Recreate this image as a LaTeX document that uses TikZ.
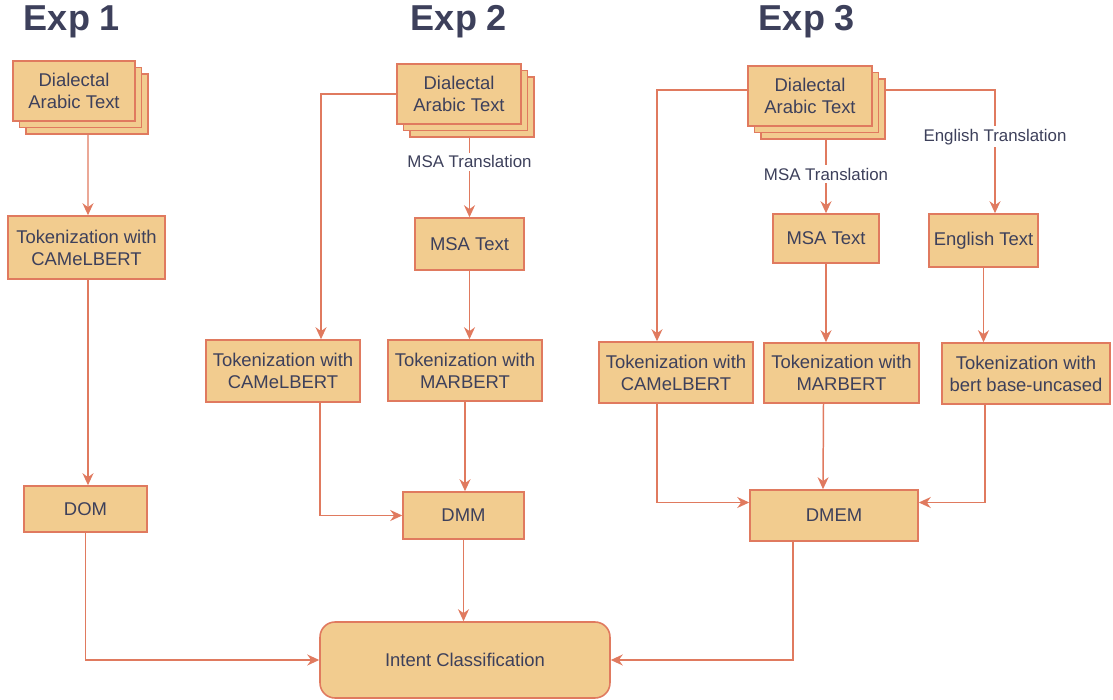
\documentclass[tikz,border=0pt]{standalone}
\usepackage{fontspec}
\setmainfont{Liberation Sans}
\usetikzlibrary{arrows.meta,calc,shadows,backgrounds}
\definecolor{boxfill}{HTML}{F2CC8F}
\definecolor{boxline}{HTML}{E07A5F}
\definecolor{ink}{HTML}{3D405B}

\begin{document}
\begin{tikzpicture}[x=0.02cm,y=-0.02cm,
  every node/.style={text=ink,font=\fontsize{10.5}{12.5}\selectfont},
  box/.style={draw=boxline,fill=boxfill,line width=0.9pt,align=center,inner sep=2pt},
  docs/.style={box,minimum width=2.48cm,minimum height=1.2cm,
    double copy shadow={shadow xshift=0.13cm,shadow yshift=-0.13cm,fill=boxfill,draw=boxline,line width=0.9pt}},
  link/.style={draw=boxline,line width=0.85pt,-{Stealth[length=2.4mm,width=2.2mm]}},
  lab/.style={fill=white,inner sep=1.5pt,font=\fontsize{9.6}{11}\selectfont},
  head/.style={font=\fontsize{20.5}{24}\bfseries}]
\useasboundingbox (0,0) rectangle (1113,700);

\node[head] (h1) at (72,22) {Exp 1};
\node[head] (h2) at (459,22) {Exp 2};
\node[head] (h3) at (807,22) {Exp 3};

\node[docs,minimum width=2.44cm] (doc1) at (74,91) {Dialectal\\Arabic Text};
\node[box,minimum width=3.14cm,minimum height=1.26cm] (tok1) at (86.5,247.5) {Tokenization with\\CAMeLBERT};
\node[box,minimum width=2.46cm,minimum height=0.92cm] (dom) at (85.5,509) {DOM};

\node[docs] (doc2) at (459,94) {Dialectal\\Arabic Text};
\node[box,minimum width=2.18cm,minimum height=1.04cm] (msa2) at (469.5,244) {MSA Text};
\node[box,minimum width=3.08cm,minimum height=1.24cm] (camel2) at (283,371) {Tokenization with\\CAMeLBERT};
\node[box,minimum width=3.08cm,minimum height=1.22cm] (mar2) at (465,370.5) {Tokenization with\\MARBERT};
\node[box,minimum width=2.42cm,minimum height=0.94cm] (dmm) at (463.5,515.5) {DMM};

\node[docs] (doc3) at (810,96) {Dialectal\\Arabic Text};
\node[box,minimum width=2.12cm,minimum height=0.98cm] (msa3) at (826,238.5) {MSA Text};
\node[box,minimum width=2.18cm,minimum height=1.06cm] (eng3) at (983.5,240.5) {English Text};
\node[box,minimum width=3.08cm,minimum height=1.22cm] (camel3) at (676,372.5) {Tokenization with\\CAMeLBERT};
\node[box,minimum width=3.1cm,minimum height=1.2cm] (mar3) at (841.5,373) {Tokenization with\\MARBERT};
\node[box,minimum width=3.36cm,minimum height=1.22cm] (bert3) at (1026,373.5) {Tokenization with\\bert base-uncased};
\node[box,minimum width=3.36cm,minimum height=1.02cm] (dmem) at (834,515.5) {DMEM};

\node[box,rounded corners=0.3cm,minimum width=5.8cm,minimum height=1.52cm] (intent) at (465,660) {Intent Classification};

\begin{scope}[on background layer]
\draw[link] ($(doc1.south)+(14,0)$) -- ($(tok1.north)+(1.5,0)$);
\draw[link] ($(tok1.south)+(1.5,0)$) -- ($(dom.north)+(2.5,0)$);
\draw[link] (dom.south) |- (intent.west);

\draw[link] (doc2.west) -| ($(camel2.north)+(38,0)$);
\draw[link] (msa2.north |- doc2.south) -- node[lab,pos=0.4] (t2) {MSA Translation} (msa2.north);
\draw[link] (msa2.south) -- (msa2.south |- mar2.north);
\draw[link] (mar2.south) -- (mar2.south |- dmm.north);
\draw[link] ($(camel2.south)+(37,0)$) |- (dmm.west);
\draw[link] (dmm.south) -- (dmm.south |- intent.north);

\draw[link] ($(doc3.west)+(0,-6)$) -| ($(camel3.north)+(-19,0)$);
\draw[link] ($(doc3.east)+(0,-6)$) -| node[lab,pos=0.69] (t3b) {English Translation} ($(eng3.north)+(11.5,0)$);
\draw[link] (msa3.north |- doc3.south) -- node[lab,pos=0.55] (t3a) {MSA Translation} (msa3.north);
\draw[link] (msa3.south) -- (msa3.south |- mar3.north);
\draw[link] (eng3.south) -- (eng3.south |- bert3.north);
\draw[link] ($(camel3.south)+(-19,0)$) |- ($(dmem.west)+(0,-13)$);
\draw[link] ($(mar3.south)+(-18,0)$) -- ($(dmem.north)+(-11,0)$);
\draw[link] ($(bert3.south)+(-41,0)$) |- ($(dmem.east)+(0,-13)$);
\draw[link] ($(dmem.south)+(-41,0)$) |- (intent.east);
\end{scope}
\end{tikzpicture}
\end{document}
